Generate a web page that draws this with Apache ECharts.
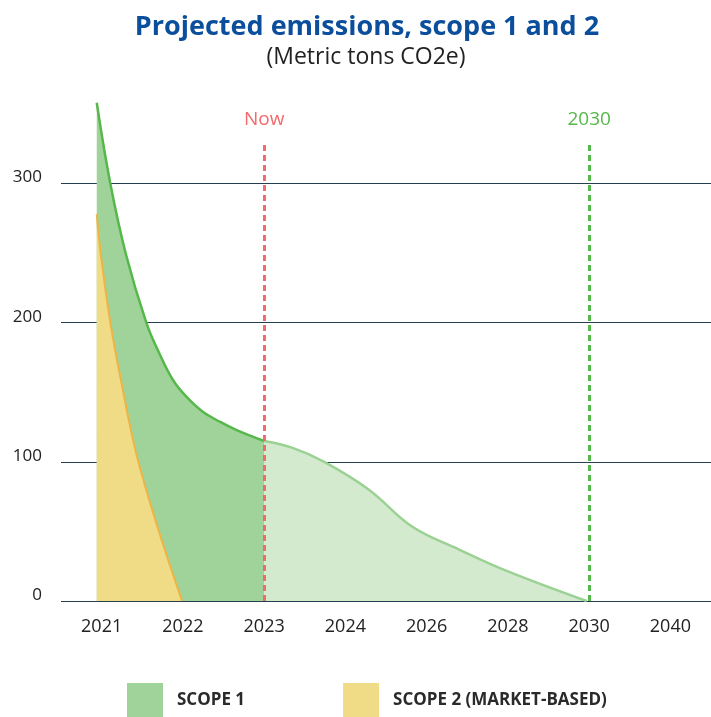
<!DOCTYPE html>
<html>
<head>
<meta charset="utf-8">
<title>Projected emissions, scope 1 and 2</title>
<script src="https://cdn.jsdelivr.net/npm/echarts@6/dist/echarts.min.js"></script>
<style>
  html, body { margin: 0; padding: 0; background: #fff; }
  #chart { width: 711px; height: 717px; }
</style>
</head>
<body>
<div id="chart"></div>
<script>
// x axis categories (evenly spaced, not to scale)
const years = ['2021', '2022', '2023', '2024', '2026', '2028', '2030', '2040'];
const yTicks = [0, 100, 200, 300];

// x positions are in category units: 0 = 2021, 1 = 2022 ... 7 = 2040
const scope1ActualX = [-0.06, 0.107, 0.3, 0.55, 0.71, 0.876, 1.04, 1.245, 1.45, 1.655, 2];
const scope1ActualY = [358, 300, 249, 200, 178, 159, 147, 136, 129, 123, 115];

const scope1ProjX = [2, 2.35, 2.74, 3.29, 3.82, 4.4, 4.97, 5.97];
const scope1ProjY = [115, 110, 100, 80, 53.5, 37, 22, 0];

const scope2X = [-0.06, -0.01, 0.107, 0.25, 0.43, 0.7, 0.99];
const scope2Y = [278, 249, 200, 155, 105, 51, 0];

const markers = [
  { label: 'Now', year: '2023', color: '#f26a6c' },
  { label: '2030', year: '2030', color: '#55b84a' }
];

const font = "'Open Sans', sans-serif";
const pairs = (xs, ys) => xs.map((x, i) => [x, ys[i]]);

const chart = echarts.init(document.getElementById('chart'));

const option = {
  animation: false,
  textStyle: { fontFamily: font },
  title: [
    {
      text: 'Projected emissions, scope 1 and 2',
      left: 362,
      top: 9,
      textAlign: 'center',
      textStyle: { fontFamily: font, fontSize: 27, fontWeight: 'bold', color: '#0b4f9c' }
    },
    {
      text: '(Metric tons CO2e)',
      left: 361,
      top: 41,
      textAlign: 'center',
      textStyle: { fontFamily: font, fontSize: 23, fontWeight: 'normal', color: '#222' }
    }
  ],
  legend: {
    left: 127,
    top: 683,
    padding: 0,
    icon: 'rect',
    itemWidth: 36,
    itemHeight: 34,
    itemGap: 98,
    textStyle: { fontFamily: font, fontSize: 17, fontWeight: 'bold', color: '#2a2a2a', padding: [0, 0, 0, 9] },
    data: [
      { name: 'SCOPE 1', itemStyle: { color: '#a0d39a' } },
      { name: 'SCOPE 2 (MARKET-BASED)', itemStyle: { color: '#f0dc87' } }
    ]
  },
  grid: { left: 61, right: 0, top: 100, bottom: 116 },
  xAxis: [
    {
      type: 'category',
      data: years,
      boundaryGap: true,
      axisLine: { show: false },
      axisTick: { show: false },
      axisLabel: { margin: 17, fontFamily: font, fontSize: 18, color: '#222' }
    },
    {
      type: 'value',
      min: -0.5,
      max: years.length - 0.5,
      show: false
    }
  ],
  yAxis: {
    type: 'value',
    min: 0,
    max: 360,
    interval: 100,
    axisLine: { show: false },
    axisTick: { show: false },
    axisLabel: {
      showMaxLabel: false,
      margin: 19,
      fontFamily: font,
      fontSize: 17,
      color: '#222',
      verticalAlign: 'bottom',
      lineHeight: 12,
      formatter: (v) => (yTicks.includes(v) ? String(v) : '')
    },
    splitLine: {
      lineStyle: { width: 1, color: ['#24404e', '#24404e', '#24404e', '#24404e', 'rgba(0,0,0,0)'] }
    }
  },
  series: [
    {
      name: 'SCOPE 1',
      type: 'line',
      xAxisIndex: 1,
      data: pairs(scope1ActualX, scope1ActualY),
      smooth: 0.4,
      symbol: 'none',
      itemStyle: { color: '#a0d39a' },
      lineStyle: { color: '#56b84b', width: 2.5 },
      areaStyle: { color: '#a0d39a', opacity: 1 },
      z: 2
    },
    {
      name: 'SCOPE 1',
      type: 'line',
      xAxisIndex: 1,
      data: pairs(scope1ProjX, scope1ProjY),
      smooth: 0.4,
      symbol: 'none',
      itemStyle: { color: '#d3eacf' },
      lineStyle: { color: '#9bd294', width: 2.5 },
      areaStyle: { color: '#d3eacf', opacity: 1 },
      z: 2
    },
    {
      name: 'SCOPE 2 (MARKET-BASED)',
      type: 'line',
      xAxisIndex: 1,
      data: pairs(scope2X, scope2Y),
      smooth: 0.4,
      symbol: 'none',
      itemStyle: { color: '#f0dc87' },
      lineStyle: { color: '#efb446', width: 2 },
      areaStyle: { color: '#f0dc87', opacity: 1 },
      z: 3,
      markLine: {
        silent: true,
        symbol: 'none',
        z: 5,
        data: markers.map((m) => {
          const x = years.indexOf(m.year);
          return [
            {
              coord: [x, 0],
              lineStyle: { color: m.color, type: [6, 4], width: 3 },
              label: {
                show: true,
                position: 'end',
                distance: 13,
                formatter: m.label,
                color: m.color,
                fontFamily: font,
                fontSize: 19
              }
            },
            { coord: [x, 330] }
          ];
        })
      }
    }
  ]
};

chart.setOption(option);
</script>
</body>
</html>
